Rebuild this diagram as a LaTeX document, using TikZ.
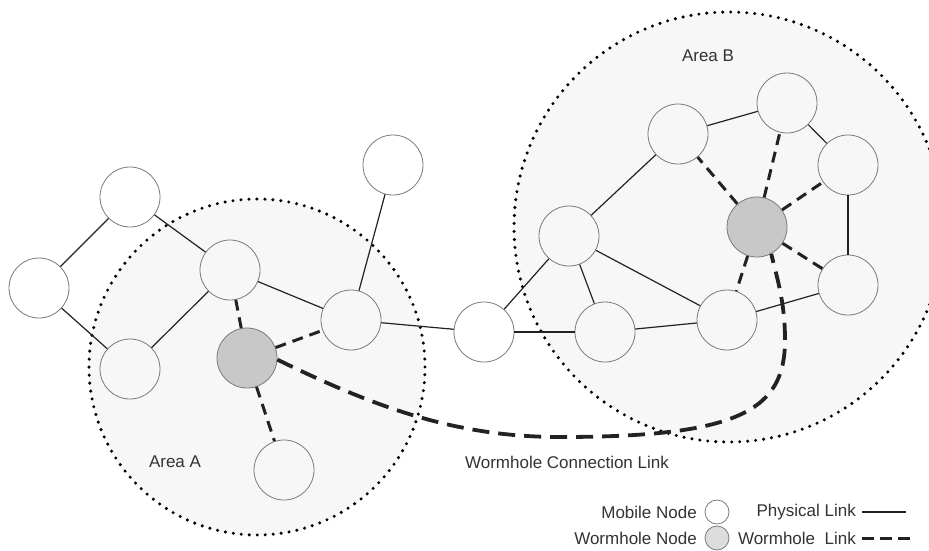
\documentclass[tikz,border=0pt]{standalone}
\usepackage{fontspec}
\setmainfont{Liberation Sans}
\definecolor{linecol}{HTML}{222222}
\definecolor{nodegray}{HTML}{7A7A7A}
\definecolor{wormfill}{HTML}{C8C8C8}
\definecolor{legfill}{HTML}{DCDCDC}
\definecolor{areafill}{HTML}{F7F7F7}
\definecolor{textcol}{HTML}{333333}
\begin{document}
\begin{tikzpicture}[x=1pt,y=-1pt,
  mnode/.style={circle,draw=nodegray,line width=0.8pt,minimum size=60pt,inner sep=0pt},
  wnode/.style={mnode,fill=wormfill},
  plink/.style={draw=linecol,line width=1.2pt},
  wlink/.style={draw=linecol,line width=3pt,dash pattern=on 11pt off 7pt},
  wcurve/.style={draw=linecol,line width=3.8pt,dash pattern=on 17pt off 9pt},
  area/.style={fill=areafill,draw=black,line width=3.4pt,line cap=round,dash pattern=on 0pt off 8pt},
  lbl/.style={text=textcol,font=\fontsize{17}{20}\selectfont,inner sep=0pt}]
\useasboundingbox (0,0) rectangle (929,550);
\clip (0,0) rectangle (929,550);
\fill[white] (0,0) rectangle (929,550);
% areas
\path[area] (257,367) circle[radius=168pt];
\path[area] (729,227) circle[radius=215pt];
\node[lbl] (areaA) at (175,462) {Area A};
\node[lbl] (areaB) at (708,56) {Area B};
\node[lbl] (wcl) at (567,462) {Wormhole Connection Link};
% nodes
\node[mnode] (n1) at (130,197) {};
\node[mnode] (n2) at (39,288) {};
\node[mnode] (n3) at (130,369) {};
\node[mnode] (n4) at (230,270) {};
\node[wnode] (nw) at (247,358) {};
\node[mnode] (n5) at (351,320) {};
\node[mnode] (n6) at (284,470) {};
\node[mnode] (n7) at (393,165) {};
\node[mnode] (n8) at (484,332) {};
\node[mnode] (b1) at (569,236) {};
\node[mnode] (b2) at (605,332) {};
\node[mnode] (b3) at (727,320) {};
\node[mnode] (b4) at (678,134) {};
\node[mnode] (b5) at (787,103) {};
\node[mnode] (b6) at (848,165) {};
\node[wnode] (bw) at (757,227) {};
\node[mnode] (b7) at (848,285) {};
% physical links
\foreach \a/\b in {n1/n2,n2/n3,n1/n4,n3/n4,n4/n5,n5/n7,n5/n8,n8/b1,n8/b2,b1/b4,b1/b2,b1/b3,b2/b3,b3/b7,b4/b5,b5/b6,b6/b7}
  \draw[plink] (\a) -- (\b);
% wormhole links
\foreach \a/\b in {nw/n4,nw/n5,nw/n6,bw/b4,bw/b5,bw/b6,bw/b7,bw/b3}
  \draw[wlink] (\a) -- (\b);
\draw[wcurve] (nw.-3) .. controls (380,410) and (460,437) .. (560,437)
  .. controls (740,437) and (785,410) .. (785,340)
  .. controls (785,300) and (776,275) .. (bw.-62);
% legend
\node[lbl,anchor=east] (lm) at (697,512) {Mobile Node};
\node[mnode,minimum size=24pt] (lmc) at (717,512) {};
\node[lbl,anchor=east] (lp) at (856,512) {Physical Link};
\coordinate (lp1) at (862,512);
\coordinate (lp2) at (906,512);
\draw[plink] (lp1) -- (lp2);
\node[lbl,anchor=east] (lw) at (697,538) {Wormhole Node};
\node[mnode,minimum size=24pt,fill=legfill] (lwc) at (717,538) {};
\node[lbl,anchor=east] (lwl) at (856,538) {Wormhole~~Link};
\coordinate (lw1) at (862,538);
\coordinate (lw2) at (914,538);
\draw[wlink,dash pattern=on 12pt off 6pt] (lw1) -- (lw2);
\end{tikzpicture}
\end{document}
